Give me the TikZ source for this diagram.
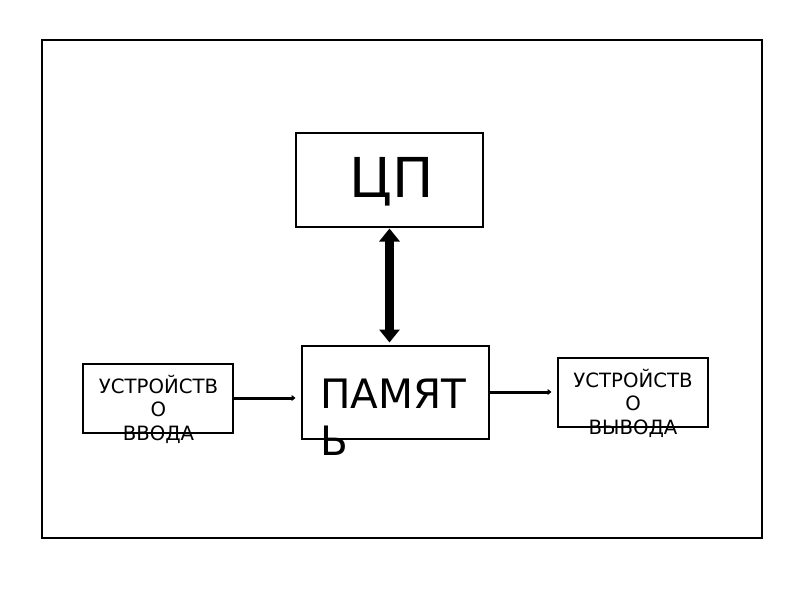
\documentclass[tikz,border=0pt]{standalone}
\usepackage{fontspec}
\setmainfont{DejaVu Sans}
\usetikzlibrary{arrows.meta}
\begin{document}
\begin{tikzpicture}[x=1pt,y=-1pt,
  box/.style={draw,line width=2pt,inner sep=0pt,anchor=north west},
  lbl/.style={inner sep=0pt,anchor=base},
  small/.style={font=\fontsize{19.7}{24}\selectfont},
  conn/.style={line width=3pt,-{Triangle[width=6pt,length=4pt]},shorten >=5pt}
]
\useasboundingbox (0,0) rectangle (800,600);
\fill[white] (0,0) rectangle (800,600);
\node[box,minimum width=720pt,minimum height=498pt] (frame) at (40.5,38.5) {};
\node[box,minimum width=187pt,minimum height=94pt] (cp) at (294.5,131.5) {};
\node[box,minimum width=187pt,minimum height=93pt] (pam) at (300.5,344.5) {};
\node[box,minimum width=150pt,minimum height=69pt] (in) at (81.5,362.5) {};
\node[box,minimum width=150pt,minimum height=69pt] (out) at (556.5,356.5) {};
% texts
\node[lbl,font=\fontsize{55}{60}\selectfont] (tcp) at (392,197) {ЦП};
\node[inner sep=0pt,anchor=base west,font=\fontsize{40.5}{47}\selectfont] (tp1) at (320,408) {ПАМЯТ};
\node[inner sep=0pt,anchor=base west,font=\fontsize{40.5}{47}\selectfont] (tp2) at (320,455) {Ь};
\node[lbl,small] (ti1) at (158.5,393) {УСТРОЙСТВ};
\node[lbl,small] (ti2) at (158.5,416) {О};
\node[lbl,small] (ti3) at (158.5,440) {ВВОДА};
\node[lbl,small] (to1) at (633,387) {УСТРОЙСТВ};
\node[lbl,small] (to2) at (633,410) {О};
\node[lbl,small] (to3) at (633,434) {ВЫВОДА};
% connectors
\draw[line width=9pt,{Triangle[width=20pt,length=13pt]}-{Triangle[width=20pt,length=13pt]},shorten <=1pt,shorten >=2pt]
  (389.5,0 |- cp.south) -- (389.5,0 |- pam.north);
\draw[conn] (in.east) -- (pam.west |- in.east);
\draw[conn] (pam.east |- out.west) -- (out.west);
\end{tikzpicture}
\end{document}
